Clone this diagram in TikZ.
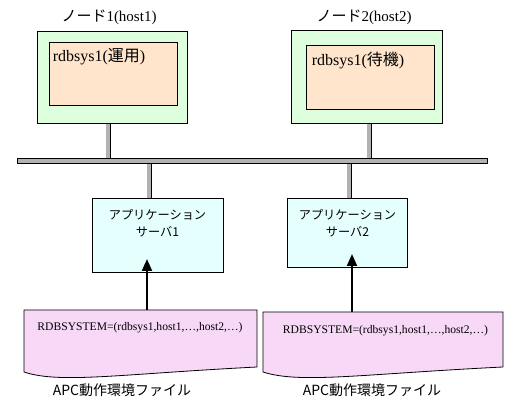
\documentclass[tikz,border=0pt]{standalone}
\usepackage{fontspec}
\setmainfont{Liberation Serif}
\newfontfamily\jp{Noto Sans CJK JP}
\usetikzlibrary{arrows.meta,backgrounds}
\definecolor{hostgreen}{RGB}{221,255,221}
\definecolor{syspeach}{RGB}{255,229,204}
\definecolor{appcyan}{RGB}{229,255,255}
\definecolor{filepink}{RGB}{247,217,247}
\definecolor{busgray}{RGB}{178,178,178}
\def\docshape[#1](#2:#3:#4:#5){\draw[#1] (#2,#3) -- (#4,#3) -- (#4,{#5-5}) .. controls ({#4-0.59*(#4-#2)},{#5+2}) and ({#2+0.155*(#4-#2)},{#5+12}) .. (#2,#5) -- cycle;}

\tikzset{
  box/.style={draw=black, line width=0.8pt, inner sep=0pt},
  hostbox/.style={box, fill=hostgreen},
  sysbox/.style={box, fill=syspeach},
  appbox/.style={box, fill=appcyan},
  busbar/.style={box, fill=busgray, minimum width=470pt, minimum height=5pt},
  stub/.style={draw=black, line width=0.8pt, double=busgray, double distance=3.4pt},
  feed/.style={line width=2pt, -{Triangle[length=12pt,width=10pt]}},
  title/.style={inner sep=0pt, font=\fontsize{15}{17}\selectfont},
  systext/.style={anchor=north west, inner sep=0pt, font=\fontsize{16}{18}\selectfont},
  apptext/.style={inner sep=0pt, align=center, font=\jp\fontsize{12.2}{16.7}\selectfont},
  filetext/.style={inner sep=0pt, font=\fontsize{11.6}{13}\selectfont},
  filename/.style={inner sep=0pt, font=\jp\fontsize{14}{16}\selectfont}
}

\begin{document}
\begin{tikzpicture}[x=1pt, y=-1pt]
				\useasboundingbox (0,0) rectangle (507,411);
				
				% nodes 1 and 2
				\node[title] (title1) at (109,17) {{\jp ノード}1(host1)};
				\node[hostbox, minimum width=150pt, minimum height=92pt] (host1) at (112,77) {};
				\node[sysbox, minimum width=128pt, minimum height=63pt] (sys1) at (113,73.5) {};
				\node[systext] (sys1text) at ([xshift=4pt,yshift=-7pt]sys1.north west) {rdbsys1({\jp 運用})};
				
				\node[title] (title2) at (364,17) {{\jp ノード}2(host2)};
				\node[hostbox, minimum width=151pt, minimum height=93pt] (host2) at (366.5,76.5) {};
				\node[sysbox, minimum width=128pt, minimum height=64pt] (sys2) at (370,77) {};
				\node[systext] (sys2text) at ([xshift=6pt,yshift=-7pt]sys2.north west) {rdbsys1({\jp 待機})};
				
				% network
				\node[busbar] (bus) at (252,160.8) {};
				
				% application servers
				\node[appbox, minimum width=131pt, minimum height=74pt] (app1) at (157.5,235) {};
				\node[apptext] (app1text) at ([yshift=12pt]app1.center) {アプリケーション\\サーバ1};
				\node[appbox, minimum width=120pt, minimum height=69pt] (app2) at (347,232.5) {};
				\node[apptext] (app2text) at ([xshift=0.5pt,yshift=9.5pt]app2.center) {アプリケーション\\サーバ2};
				
				\begin{scope}[on background layer]
					\draw[stub] ([xshift=-4pt]host1.south) -- ([xshift=-4pt]host1.south |- bus.north);
					\draw[stub] ([xshift=2.5pt]host2.south) -- ([xshift=2.5pt]host2.south |- bus.north);
					\draw[stub] ([xshift=-8.5pt]app1.north) -- ([xshift=-8.5pt]app1.north |- bus.south);
					\draw[stub] ([xshift=2pt]app2.north) -- ([xshift=2pt]app2.north |- bus.south);
				\end{scope}
				
				% APC files
				\docshape[box, fill=filepink](24:310:257:372);
				\node[filetext] (file1) at (140,328) {RDBSYSTEM=(rdbsys1,host1,…,host2,…)};
				\node[filename] (name1) at (122,390) {APC動作環境ファイル};
				
				\docshape[box, fill=filepink](263:312:503:372);
				\node[filetext] (file2) at (385.5,331) {RDBSYSTEM=(rdbsys1,host1,…,host2,…)};
				\node[filename] (name2) at (372,390) {APC動作環境ファイル};
				
				\coordinate (file1top) at (147,310);
				\coordinate (app1tip) at (147,259);
				\coordinate (file2top) at (352,312);
				\coordinate (app2tip) at (352,254);
				\draw[feed] (file1top) -- (app1tip);
				\draw[feed] (file2top) -- (app2tip);
			\end{tikzpicture}
\end{document}
